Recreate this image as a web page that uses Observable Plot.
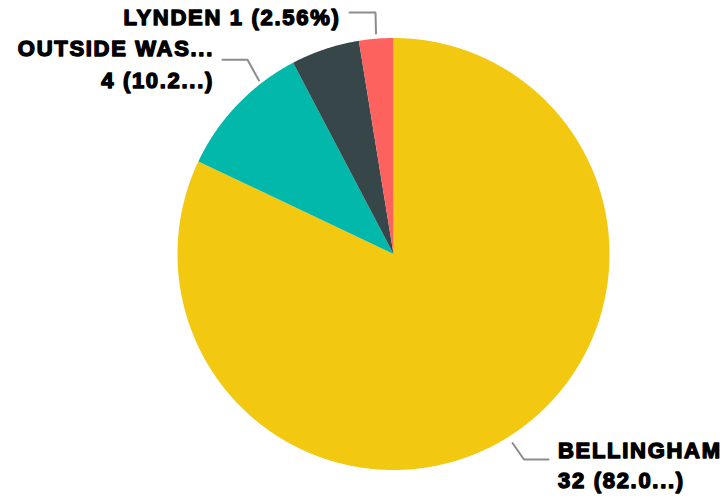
<!DOCTYPE html>
<html>
<head>
<meta charset="utf-8">
<script src="https://cdn.jsdelivr.net/npm/d3@7"></script>
<script src="https://cdn.jsdelivr.net/npm/@observablehq/plot@0.6"></script>
<style>
  html, body { margin: 0; padding: 0; background: #fff; }
  #chart { width: 728px; height: 500px; }
</style>
</head>
<body>
<div id="chart"></div>
<script>
// ---- data ----
const categories = ["BELLINGHAM", "OUTSIDE WASHINGTON", "OTHER", "LYNDEN"];
const counts = [32, 4, 2, 1];
const colors = ["#F2C811", "#01B8AA", "#374649", "#FD625E"];
const labelLines = [
  ["BELLINGHAM", "32 (82.0...)"],
  ["OUTSIDE WAS...", "4 (10.2...)"],
  [],
  ["LYNDEN 1 (2.56%)"]
];

// ---- layout ----
const W = 728, H = 500;
const cx = 393, cy = 253.5, R = 216;

const pie = d3.pie().sort(null).value(d => d.value);
const arcs = pie(categories.map((name, i) => ({name, value: counts[i]})));

// polygon points for each slice (pixel units via identity-like linear scales)
const slicePts = [];
for (const a of arcs) {
  slicePts.push({name: a.data.name, x: cx, y: cy});
  const steps = Math.max(2, Math.ceil((a.endAngle - a.startAngle) / 0.005));
  for (let k = 0; k <= steps; k++) {
    const t = a.startAngle + (a.endAngle - a.startAngle) * k / steps;
    slicePts.push({name: a.data.name, x: cx + R * Math.sin(t), y: cy - R * Math.cos(t)});
  }
  slicePts.push({name: a.data.name, x: cx, y: cy});
}

// leader lines and label anchors (layout)
const leaders = [
  {name: "BELLINGHAM", pts: [[512, 442.5], [523.5, 459], [548, 459]]},
  {name: "OUTSIDE WASHINGTON", pts: [[222, 59.3], [247, 59.3], [258.5, 80]]},
  {name: "LYNDEN", pts: [[349, 12], [375, 12], [375.5, 33]]}
];
const leaderPts = leaders.flatMap(l => l.pts.map(([x, y]) => ({name: l.name, x, y})));

const labels = [
  {text: labelLines[0][0], x: 557.5, y: 457, anchor: "start"},
  {text: labelLines[0][1], x: 557.5, y: 487, anchor: "start"},
  {text: labelLines[1][0], x: 213.5, y: 55, anchor: "end"},
  {text: labelLines[1][1], x: 213.5, y: 87, anchor: "end"},
  {text: labelLines[3][0], x: 340, y: 24, anchor: "end"}
];

const textStyle = {
  x: "x", y: "y", text: "text", lineAnchor: "bottom",
  fontSize: 22, fontWeight: "bold", fontFamily: "Liberation Sans, Arial, sans-serif",
  fill: "#000", stroke: "#000", strokeWidth: 1.4
};

const plot = Plot.plot({
  width: W,
  height: H,
  margin: 0,
  x: {domain: [0, W], range: [0, W], axis: null},
  y: {domain: [0, H], range: [0, H], axis: null},
  color: {domain: categories, range: colors},
  style: {background: "#fff"},
  marks: [
    Plot.line(slicePts, {x: "x", y: "y", z: "name", fill: "name", stroke: "none", curve: "linear"}),
    Plot.line(leaderPts, {x: "x", y: "y", z: "name", stroke: "#8c8c8c", strokeWidth: 2, curve: "linear", strokeLinejoin: "miter"}),
    Plot.text(labels.filter(d => d.anchor === "start"), {...textStyle, textAnchor: "start"}),
    Plot.text(labels.filter(d => d.anchor === "end"), {...textStyle, textAnchor: "end"})
  ]
});

plot.querySelectorAll("text").forEach(t => t.setAttribute("letter-spacing", "1.7px"));
document.getElementById("chart").appendChild(plot);
</script>
</body>
</html>
